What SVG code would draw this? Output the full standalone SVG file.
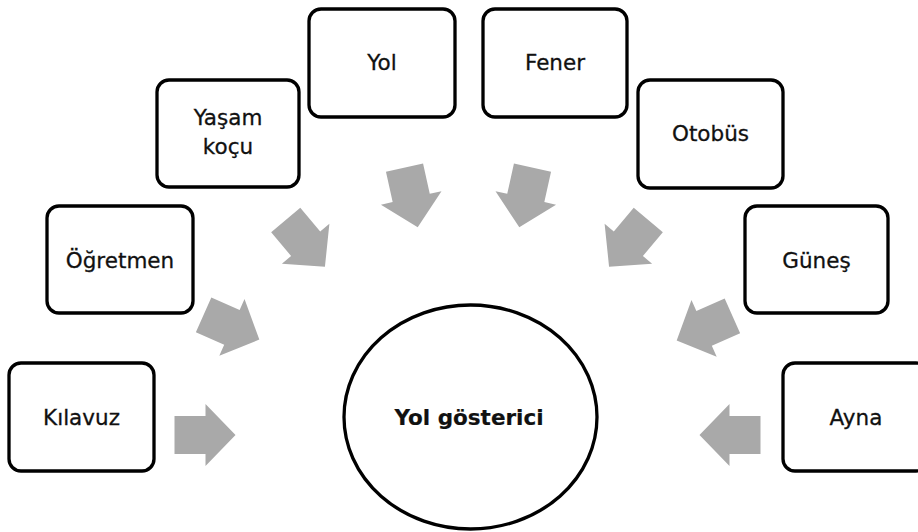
<svg xmlns="http://www.w3.org/2000/svg" width="918" height="532" viewBox="0 0 918 532">
<style>
.box{fill:#fff;stroke:#000;stroke-width:3.3}
.lbl{font-family:"DejaVu Sans",sans-serif;font-size:21.5px;fill:#111;text-anchor:middle;stroke:#111;stroke-width:0.3}
.arr{fill:#a9a9a9}
</style>
<defs>
<path id="arrow" class="arr" d="M-30,-19 H1 V-31 L31,0 L1,31 V19 H-30 Z"/>
</defs>
<rect width="918" height="532" fill="#fff"/>
<g id="connectors">
<use href="#arrow" transform="translate(204.5,435)"/>
<use href="#arrow" transform="translate(231,327) rotate(24)"/>
<use href="#arrow" transform="translate(305,243) rotate(50)"/>
<use href="#arrow" transform="translate(411,197) rotate(77.5)"/>
<use href="#arrow" transform="translate(526,197) rotate(102.5)"/>
<use href="#arrow" transform="translate(629,243) rotate(130)"/>
<use href="#arrow" transform="translate(705,328) rotate(156)"/>
<use href="#arrow" transform="translate(730.5,435) rotate(180)"/>
</g>
<g id="center">
<ellipse class="box" cx="470.5" cy="417" rx="126.5" ry="112"/>
<text class="lbl" x="469" y="425" style="font-weight:bold;font-size:21.5px;stroke-width:0.2">Yol gösterici</text>
</g>
<g id="kilavuz">
<rect class="box" x="9" y="363" width="145" height="108" rx="12"/>
<text class="lbl" x="81.5" y="425">Kılavuz</text>
</g>
<g id="ogretmen">
<rect class="box" x="47" y="206" width="146" height="107" rx="12"/>
<text class="lbl" x="120" y="268">Öğretmen</text>
</g>
<g id="yasam-kocu">
<rect class="box" x="157" y="80" width="142" height="107" rx="12"/>
<text class="lbl" x="228" y="125">Yaşam</text>
<text class="lbl" x="228" y="154">koçu</text>
</g>
<g id="yol">
<rect class="box" x="309" y="9" width="146" height="108" rx="12"/>
<text class="lbl" x="382" y="70">Yol</text>
</g>
<g id="fener">
<rect class="box" x="483" y="9" width="144" height="108" rx="12"/>
<text class="lbl" x="555" y="70">Fener</text>
</g>
<g id="otobus">
<rect class="box" x="638" y="80" width="145" height="108" rx="12"/>
<text class="lbl" x="710.5" y="141">Otobüs</text>
</g>
<g id="gunes">
<rect class="box" x="745" y="206" width="143" height="107" rx="12"/>
<text class="lbl" x="816.5" y="268">Güneş</text>
</g>
<g id="ayna">
<rect class="box" x="783" y="363" width="145" height="108" rx="12"/>
<text class="lbl" x="856" y="425">Ayna</text>
</g>
</svg>
